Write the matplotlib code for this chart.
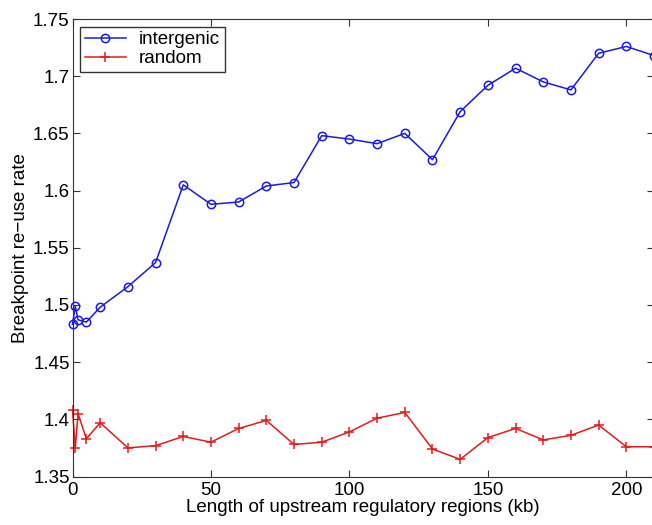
import matplotlib
matplotlib.use('Agg')
import matplotlib.pyplot as plt

# upstream region length (kb)
x = [0, 1, 2, 5, 10, 20, 30, 40, 50, 60, 70, 80, 90, 100, 110, 120,
     130, 140, 150, 160, 170, 180, 190, 200, 210]

intergenic = [1.483, 1.499, 1.487, 1.485, 1.498, 1.516, 1.537, 1.605, 1.588,
              1.590, 1.604, 1.607, 1.648, 1.645, 1.641, 1.650, 1.627, 1.669,
              1.692, 1.707, 1.695, 1.688, 1.720, 1.726, 1.718]

random = [1.408, 1.375, 1.405, 1.383, 1.397, 1.375, 1.377, 1.385, 1.380,
          1.392, 1.399, 1.378, 1.380, 1.389, 1.401, 1.406, 1.374, 1.365,
          1.384, 1.392, 1.382, 1.386, 1.395, 1.376, 1.376]

plt.rcParams['font.family'] = ['Liberation Sans', 'DejaVu Sans']

fig = plt.figure(figsize=(6.52, 5.25), dpi=100)
# axes runs a little past the right edge, like the cropped original
ax = fig.add_axes([72.5/652, 1 - 476.5/525, (654 - 72.5)/652, (476.5 - 19)/525])

ax.plot(x, intergenic, '-o', color='#1a1ae6', mfc='none', ms=6, lw=1.1, mew=1.1,
        label='intergenic', clip_on=False)
ax.plot(x, random, '-+', color='#e61a1a', ms=6.5, lw=1.1, mew=1.1,
        label='random', clip_on=False)

ax.set_xlim(0, 210)
ax.set_ylim(1.35, 1.75)
ax.set_xticks([0, 50, 100, 150, 200])
ax.set_yticks([1.35, 1.4, 1.45, 1.5, 1.55, 1.6, 1.65, 1.7, 1.75])
ax.set_yticklabels(['1.35', '1.4', '1.45', '1.5', '1.55', '1.6', '1.65', '1.7', '1.75'])
ax.tick_params(direction='in', top=True, right=True, labelsize=13.5, length=5,
               color='#333333', pad=2)
ax.tick_params(axis='x', pad=4)
for s in ax.spines.values():
    s.set_color('#333333')

ax.set_xlabel('Length of upstream regulatory regions (kb)', fontsize=13.5, labelpad=0)
ax.set_ylabel('Breakpoint re\u2212use rate', fontsize=13.5, labelpad=3)

leg = ax.legend(loc='upper left', fontsize=13.5, fancybox=False, framealpha=1,
                edgecolor='#333333', borderaxespad=0.4, handlelength=2.2,
                borderpad=0.25, labelspacing=0.1, handletextpad=0.7)
leg.get_frame().set_linewidth(1.0)

fig.savefig('out.png', dpi=100)
